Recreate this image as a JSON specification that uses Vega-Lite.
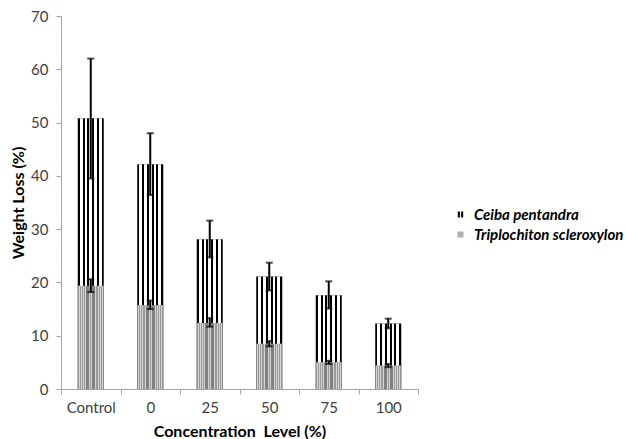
{
  "$schema": "https://vega.github.io/schema/vega-lite/v6.json",
  "autosize": {"type": "none"},
  "width": 357,
  "height": 373,
  "padding": {"left": 61, "top": 16, "right": 207, "bottom": 50},
  "background": "white",
  "config": {
    "view": {"stroke": null},
    "font": "Lato",
    "axis": {"grid": false, "domainColor": "#a6a6a6", "tickColor": "#a6a6a6", "labelColor": "#404040", "labelFont": "Lato", "labelFontSize": 15, "titleFont": "Lato", "titleFontSize": 16, "titleFontWeight": "bold", "titleColor": "#000000", "tickSize": 5}
  },
  "data": {
    "values": [
      {"conc": "Control", "species": "Ceiba pentandra", "value": 50.8, "lo": 39.5, "hi": 62.0},
      {"conc": "0", "species": "Ceiba pentandra", "value": 42.2, "lo": 36.4, "hi": 48.0},
      {"conc": "25", "species": "Ceiba pentandra", "value": 28.1, "lo": 24.7, "hi": 31.6},
      {"conc": "50", "species": "Ceiba pentandra", "value": 21.1, "lo": 18.5, "hi": 23.7},
      {"conc": "75", "species": "Ceiba pentandra", "value": 17.6, "lo": 15.1, "hi": 20.2},
      {"conc": "100", "species": "Ceiba pentandra", "value": 12.3, "lo": 11.4, "hi": 13.2},
      {"conc": "Control", "species": "Triplochiton scleroxylon", "value": 19.4, "lo": 18.2, "hi": 20.6},
      {"conc": "0", "species": "Triplochiton scleroxylon", "value": 15.7, "lo": 15.0, "hi": 16.6},
      {"conc": "25", "species": "Triplochiton scleroxylon", "value": 12.4, "lo": 11.7, "hi": 13.3},
      {"conc": "50", "species": "Triplochiton scleroxylon", "value": 8.5, "lo": 8.0, "hi": 9.0},
      {"conc": "75", "species": "Triplochiton scleroxylon", "value": 5.0, "lo": 4.7, "hi": 5.3},
      {"conc": "100", "species": "Triplochiton scleroxylon", "value": 4.4, "lo": 4.1, "hi": 4.7}
    ]
  },
  "encoding": {
    "x": {
      "field": "conc", "type": "nominal",
      "sort": ["Control", "0", "25", "50", "75", "100"],
      "scale": {"paddingInner": 0, "paddingOuter": 0},
      "axis": {"title": "Concentration\u00a0 Level (%)", "labelAngle": 0, "tickBand": "extent", "labelPadding": 6, "titlePadding": 8}
    },
    "y": {
      "field": "value", "type": "quantitative",
      "scale": {"domain": [0, 70], "nice": false},
      "axis": {"title": "Weight Loss (%)", "values": [0, 10, 20, 30, 40, 50, 60, 70], "labelPadding": 8, "titlePadding": 4}
    }
  },
  "layer": [
    {
      "transform": [{"filter": "datum.species === 'Ceiba pentandra'"}],
      "mark": {"type": "bar", "width": {"band": 0.437}},
      "encoding": {
        "color": {
          "field": "species", "type": "nominal",
          "scale": {"domain": ["Ceiba pentandra", "Triplochiton scleroxylon"], "range": ["#000000", "#b0b0b0"]},
          "legend": {
            "title": null, "orient": "none", "legendX": 392, "legendY": 191,
            "padding": 0, "symbolSize": 36, "symbolType": "square", "symbolStrokeWidth": 0,
            "labelFont": "Lato", "labelFontSize": 15, "labelFontWeight": "bold", "labelFontStyle": "italic", "labelColor": "#000000",
            "labelOffset": 6, "rowPadding": 4,
            "encode": {"symbols": {"update": {"shape": {"signal": "datum.value === 'Ceiba pentandra' ? 'M-0.9,-1H-0.2V1H-0.9Z M0.2,-1H0.9V1H0.2Z' : 'square'"}}}}
          }
        }
      }
    },
    {
      "transform": [{"filter": "datum.species === 'Ceiba pentandra'"}],
      "mark": {
        "type": "bar", "width": {"band": 0.437},
        "fill": {"gradient": "linear", "x1": 0, "y1": 0, "x2": 1, "y2": 0, "stops": [
          {"offset": 0, "color": "rgba(255,255,255,0)"}, {"offset": 0.077, "color": "rgba(255,255,255,0)"},
          {"offset": 0.077, "color": "#ffffff"}, {"offset": 0.185, "color": "#ffffff"},
          {"offset": 0.185, "color": "rgba(255,255,255,0)"}, {"offset": 0.262, "color": "rgba(255,255,255,0)"},
          {"offset": 0.262, "color": "#ffffff"}, {"offset": 0.369, "color": "#ffffff"},
          {"offset": 0.369, "color": "rgba(255,255,255,0)"}, {"offset": 0.446, "color": "rgba(255,255,255,0)"},
          {"offset": 0.446, "color": "#ffffff"}, {"offset": 0.554, "color": "#ffffff"},
          {"offset": 0.554, "color": "rgba(255,255,255,0)"}, {"offset": 0.631, "color": "rgba(255,255,255,0)"},
          {"offset": 0.631, "color": "#ffffff"}, {"offset": 0.738, "color": "#ffffff"},
          {"offset": 0.738, "color": "rgba(255,255,255,0)"}, {"offset": 0.815, "color": "rgba(255,255,255,0)"},
          {"offset": 0.815, "color": "#ffffff"}, {"offset": 0.923, "color": "#ffffff"},
          {"offset": 0.923, "color": "rgba(255,255,255,0)"}, {"offset": 1, "color": "rgba(255,255,255,0)"}
        ]}
      },
      "encoding": {}
    },
    {
      "transform": [{"filter": "datum.species === 'Triplochiton scleroxylon'"}],
      "mark": {"type": "bar", "width": {"band": 0.437}},
      "encoding": {
        "color": {"field": "species", "type": "nominal"}
      }
    },
    {
      "transform": [{"filter": "datum.species === 'Triplochiton scleroxylon'"}],
      "mark": {
        "type": "bar", "width": {"band": 0.437},
        "fill": {"gradient": "linear", "x1": 0, "y1": 0, "x2": 1, "y2": 0, "stops": [
          {"offset": 0, "color": "rgba(110,110,110,0.35)"}, {"offset": 0.04, "color": "rgba(110,110,110,0.35)"},
          {"offset": 0.04, "color": "rgba(255,255,255,0.45)"}, {"offset": 0.08, "color": "rgba(255,255,255,0.45)"},
          {"offset": 0.08, "color": "rgba(110,110,110,0.35)"}, {"offset": 0.12, "color": "rgba(110,110,110,0.35)"},
          {"offset": 0.12, "color": "rgba(255,255,255,0.45)"}, {"offset": 0.16, "color": "rgba(255,255,255,0.45)"},
          {"offset": 0.16, "color": "rgba(110,110,110,0.35)"}, {"offset": 0.2, "color": "rgba(110,110,110,0.35)"},
          {"offset": 0.2, "color": "rgba(255,255,255,0.45)"}, {"offset": 0.24, "color": "rgba(255,255,255,0.45)"},
          {"offset": 0.24, "color": "rgba(110,110,110,0.35)"}, {"offset": 0.28, "color": "rgba(110,110,110,0.35)"},
          {"offset": 0.28, "color": "rgba(255,255,255,0.45)"}, {"offset": 0.32, "color": "rgba(255,255,255,0.45)"},
          {"offset": 0.32, "color": "rgba(80,80,80,0.5)"}, {"offset": 0.44, "color": "rgba(80,80,80,0.5)"},
          {"offset": 0.44, "color": "rgba(255,255,255,0.45)"}, {"offset": 0.48, "color": "rgba(255,255,255,0.45)"},
          {"offset": 0.48, "color": "rgba(110,110,110,0.35)"}, {"offset": 0.52, "color": "rgba(110,110,110,0.35)"},
          {"offset": 0.52, "color": "rgba(255,255,255,0.45)"}, {"offset": 0.56, "color": "rgba(255,255,255,0.45)"},
          {"offset": 0.56, "color": "rgba(80,80,80,0.5)"}, {"offset": 0.68, "color": "rgba(80,80,80,0.5)"},
          {"offset": 0.68, "color": "rgba(255,255,255,0.45)"}, {"offset": 0.72, "color": "rgba(255,255,255,0.45)"},
          {"offset": 0.72, "color": "rgba(110,110,110,0.35)"}, {"offset": 0.76, "color": "rgba(110,110,110,0.35)"},
          {"offset": 0.76, "color": "rgba(255,255,255,0.45)"}, {"offset": 0.8, "color": "rgba(255,255,255,0.45)"},
          {"offset": 0.8, "color": "rgba(110,110,110,0.35)"}, {"offset": 0.84, "color": "rgba(110,110,110,0.35)"},
          {"offset": 0.84, "color": "rgba(255,255,255,0.45)"}, {"offset": 0.88, "color": "rgba(255,255,255,0.45)"},
          {"offset": 0.88, "color": "rgba(110,110,110,0.35)"}, {"offset": 0.92, "color": "rgba(110,110,110,0.35)"},
          {"offset": 0.92, "color": "rgba(255,255,255,0.45)"}, {"offset": 0.96, "color": "rgba(255,255,255,0.45)"},
          {"offset": 0.96, "color": "rgba(110,110,110,0.35)"}, {"offset": 1, "color": "rgba(110,110,110,0.35)"}
        ]}
      },
      "encoding": {}
    },
    {
      "mark": {"type": "rule", "color": "#000000", "strokeWidth": 2},
      "encoding": {
        "y": {"field": "lo", "type": "quantitative"},
        "y2": {"field": "hi"}
      }
    },
    {
      "mark": {"type": "tick", "color": "#000000", "size": 7, "thickness": 2},
      "encoding": {
        "y": {"field": "hi", "type": "quantitative"}
      }
    },
    {
      "mark": {"type": "tick", "color": "#000000", "size": 7, "thickness": 2},
      "encoding": {
        "y": {"field": "lo", "type": "quantitative"}
      }
    }
  ]
}
